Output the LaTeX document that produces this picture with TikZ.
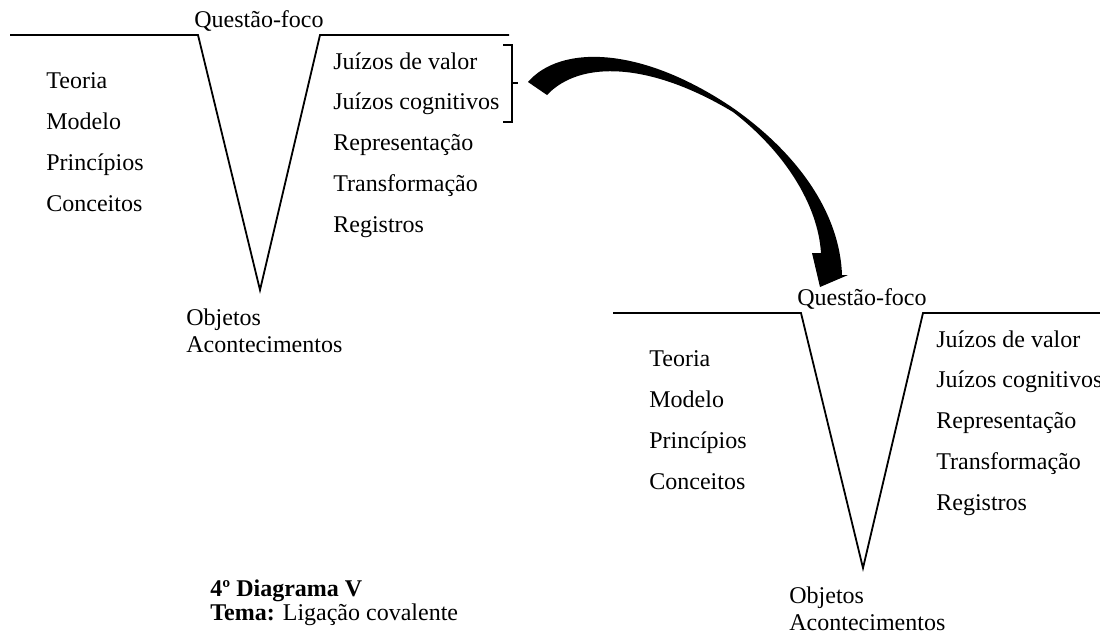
\documentclass[tikz,border=0pt]{standalone}
\usepackage{fontspec}
\setmainfont{Liberation Serif}
\usetikzlibrary{positioning}

\tikzset{
    texte/.style={anchor=base west, inner sep=0pt, font=\fontsize{12}{14}\selectfont},
    trait/.style={line width=0.9pt, line join=miter},
}

% Un diagramme V complet ; #1 = préfixe des noms
\newcommand{\diagrammeV}[1]{%
    % --- Ligne supérieure et V ---
    \coordinate (#1g) at (10,35);
    \coordinate (#1a) at (198,35);
    \coordinate (#1b) at (260,290);
    \coordinate (#1c) at (320,35);
    \coordinate (#1d) at (509,35);
    \draw[trait] (#1g) -- (#1a) -- (#1b) -- (#1c) -- (#1d);

    % Question au sommet
    \node[texte, anchor=base] (#1quest) at (259,27) {Questão-foco};

    % --- Côté conceptuel (gauche) ---
    \node[texte] (#1teo) at (46,88)  {Teoria};
    \node[texte] (#1mod) at (46,129) {Modelo};
    \node[texte] (#1pri) at (46,170) {Princípios};
    \node[texte] (#1con) at (46,211) {Conceitos};

    % --- Côté méthodologique (droite) ---
    \node[texte] (#1val) at (333,69)  {Juízos de valor};
    \node[texte] (#1cog) at (333,109) {Juízos cognitivos};
    \node[texte] (#1rep) at (333,150) {Representação};
    \node[texte] (#1tra) at (333,191) {Transformação};
    \node[texte] (#1reg) at (333,232) {Registros};

    % --- Pointe du V ---
    \node[texte] (#1obj) at (186,325) {Objetos};
    \node[texte] (#1aco) at (186,352) {Acontecimentos};
}

\begin{document}
\begin{tikzpicture}[
        x=0.5pt,
        y=-0.5pt,
        >=latex
    ]
    \useasboundingbox (0,0) rectangle (1100,633);
    \clip (0,0) rectangle (1100,633);

    % --- Premier diagramme ---
    \diagrammeV{L}

    % Accolade autour des jugements
    \coordinate (Ah) at (512,45);
    \coordinate (Ab) at (512,122);
    \coordinate (Am) at (512,83);
    \draw[trait] ([xshift=-4.5pt]Ah) -- (Ah) -- (Ab) -- ([xshift=-4.5pt]Ab);
    \draw[trait] (Am) -- ++(6,0);

    % --- Second diagramme, décalé ---
    \begin{scope}[shift={(603,278)}]
        \diagrammeV{R}
    \end{scope}

    % --- Flèche courbe pleine ---
    \coordinate (queue) at (537,88);
    \coordinate (pointe) at (820,287);
    \fill[black] (528,82) .. controls (560,45) and (640,45) .. (733,108)
        .. controls (800,155) and (840,215) .. (842,275)
        -- (848,275) -- (pointe) -- (812,253) -- (821,253)
        .. controls (818,205) and (785,152) .. (733,112)
        .. controls (650,62) and (580,60) .. (547,95) -- cycle;

    % --- Légende ---
    \node[texte] (titre) at (210,596) {\bfseries 4º Diagrama V};
    \node[texte] (tema) at (210,620) {\textbf{Tema:} Ligação covalente};

\end{tikzpicture}
\end{document}
